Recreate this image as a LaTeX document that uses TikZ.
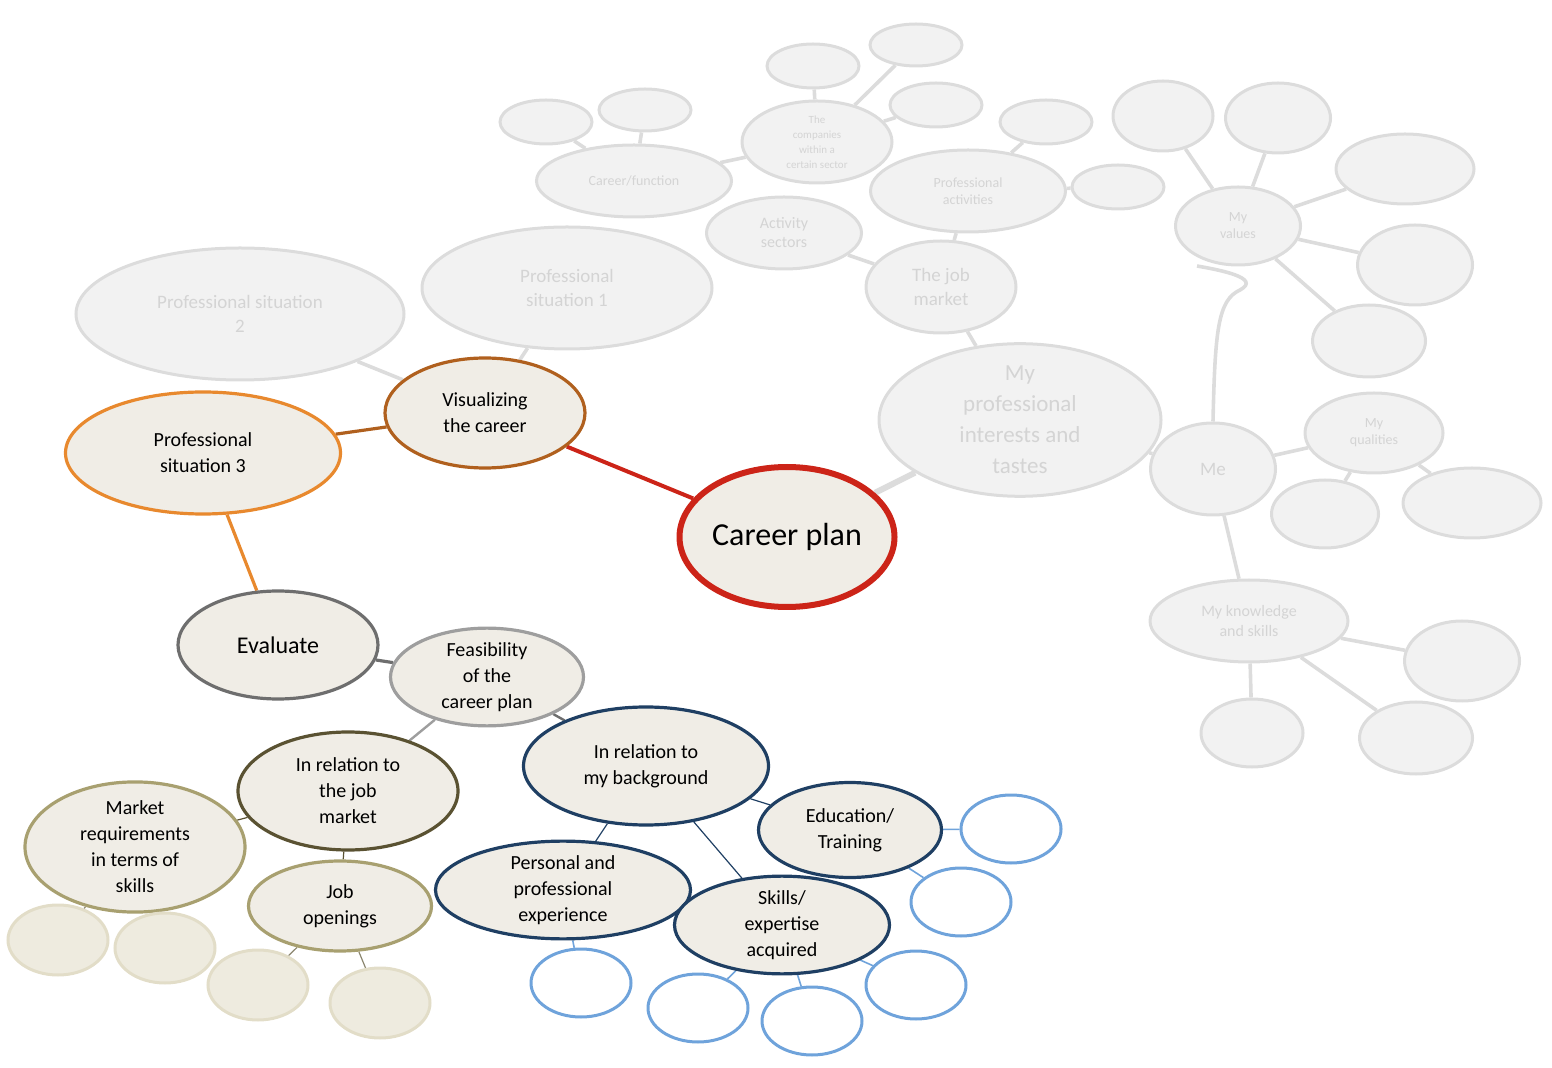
\documentclass[tikz,border=0pt]{standalone}
\usepackage{fontspec}
\setmainfont{Carlito}
\usetikzlibrary{shapes.geometric,backgrounds}
\definecolor{paper}{HTML}{F0EDE6}
\definecolor{faint}{HTML}{F2F2F2}
\definecolor{faintline}{HTML}{DCDCDC}
\definecolor{fainttext}{HTML}{D4D4D4}
\definecolor{careerred}{HTML}{CC2418}
\definecolor{visbrown}{HTML}{B0601E}
\definecolor{sitorange}{HTML}{E8892E}
\definecolor{evalgray}{HTML}{6E6E6E}
\definecolor{feasgray}{HTML}{9E9E9E}
\definecolor{jobolive}{HTML}{5A5232}
\definecolor{khaki}{HTML}{A8A070}
\definecolor{palekhaki}{HTML}{E2DDC8}
\definecolor{palefill}{HTML}{EEEBDF}
\definecolor{navy}{HTML}{1F3F63}
\definecolor{skyblue}{HTML}{6FA3DB}
\tikzset{
  sz/.style 2 args={minimum width=#1*0.5pt,minimum height=#2*0.5pt},
  bubble/.style={ellipse,draw,fill=paper,inner sep=0pt,align=center,font=\fontsize{10}{13}\selectfont},
  ghost/.style={ellipse,draw=faintline,line width=1.5pt,fill=faint,inner sep=0pt,align=center,text=fainttext,font=\fontsize{7}{8.5}\selectfont},
  ghostline/.style={faintline,line width=1.8pt},
  pale/.style={ellipse,draw=palekhaki,line width=1.5pt,fill=palefill,sz={100}{70}},
  bluebox/.style={ellipse,draw=skyblue,line width=1.5pt,fill=white,sz={100}{68}},
}
\begin{document}
\begin{tikzpicture}[x=0.5pt,y=-0.5pt]
\useasboundingbox (0,0) rectangle (1552,1068);

% grey part
\node[ghost,sz={328}{132},font=\fontsize{9.5}{12}\selectfont] (sit2) at (240,314) {Professional situation\\2};
\node[ghost,sz={290}{122},font=\fontsize{9.5}{12}\selectfont] (sit1) at (567,288) {Professional\\situation 1};
\node[ghost,sz={195}{72}] (func) at (634,181) {Career/function};
\node[ghost,sz={150}{82},font=\fontsize{5.5}{7.5}\selectfont] (comp) at (817,142) {The\\companies\\within a\\certain sector};
\node[ghost,sz={155}{72},font=\fontsize{8}{9.5}\selectfont] (sect) at (784,233) {Activity\\sectors};
\node[ghost,sz={195}{82}] (act) at (968,191) {Professional\\activities};
\node[ghost,sz={150}{92},font=\fontsize{9.5}{12}\selectfont] (mkt) at (941,287) {The job\\market};
\node[ghost,sz={282}{128},font=\fontsize{11.5}{15.5}\selectfont] (taste) at (1020,420) {My\\professional\\interests and\\tastes};
\node[ghost,sz={125}{92},font=\fontsize{9.5}{12}\selectfont] (me) at (1213,469) {Me};
\node[ghost,sz={125}{78}] (val) at (1238,226) {My\\values};
\node[ghost,sz={138}{80}] (qual) at (1374,433) {My\\qualities};
\node[ghost,sz={198}{82},font=\fontsize{8}{10}\selectfont] (know) at (1249,621) {My knowledge\\and skills};
\foreach \n/\px/\py/\w/\h in {ga/546/122/92/44, gb/645/110/92/42, gc/813/66/92/44, gd/916/45/92/42,
  ge/936/105/92/44, gf/1046/122/92/44, gg/1118/187/92/44, gh/1163/116/100/70, gi/1278/118/105/70,
  gj/1405/169/138/70, gk/1415/265/115/80, gl/1369/341/113/72, gm/1325/514/107/68,
  gn/1472/503/138/70, go/1462/661/115/80, gp/1416/738/113/72, gq/1252/733/102/68}
  \node[ghost,sz={\w}{\h}] (\n) at (\px,\py) {};

% coloured part
\node[bubble,draw=careerred,line width=3pt,sz={215}{140},font=\fontsize{16}{20}\selectfont] (plan) at (787,537) {Career plan};
\node[bubble,draw=visbrown,line width=1.6pt,sz={200}{110}] (vis) at (485,413) {Visualizing\\the career};
\node[bubble,draw=sitorange,line width=1.6pt,sz={275}{122}] (sit3) at (203,453) {Professional\\situation 3};
\node[bubble,draw=evalgray,line width=1.6pt,sz={200}{108},font=\fontsize{12}{15}\selectfont] (eval) at (278,645) {Evaluate};
\node[bubble,draw=feasgray,line width=1.6pt,sz={193}{95}] (feas) at (487,677) {Feasibility\\of the\\career plan};
\node[bubble,draw=jobolive,line width=1.6pt,sz={220}{118}] (jobm) at (348,791) {In relation to\\the job\\market};
\node[bubble,draw=navy,line width=1.6pt,sz={245}{118}] (back) at (646,766) {In relation to\\my background};
\node[bubble,draw=khaki,line width=1.6pt,sz={220}{110}] (req) at (135,847) {Market\\requirements\\in terms of\\skills};
\node[bubble,draw=khaki,line width=1.6pt,sz={183}{90}] (open) at (340,906) {Job\\openings};
\node[bubble,draw=navy,line width=1.6pt,sz={183}{95}] (edu) at (850,830) {Education/\\Training};
\node[bubble,draw=navy,line width=1.6pt,sz={255}{95}] (exp) at (563,890) {Personal and\\professional\\experience};
\node[bubble,draw=navy,line width=1.6pt,sz={215}{95}] (skill) at (782,925) {Skills/\\expertise\\acquired};
\node[pale] (pa) at (58,940) {};
\node[pale] (pb) at (165,948) {};
\node[pale] (pc) at (258,985) {};
\node[pale] (pd) at (380,1003) {};
\node[bluebox] (ba) at (1011,829) {};
\node[bluebox] (bb) at (961,902) {};
\node[bluebox] (bc) at (581,983) {};
\node[bluebox] (bd) at (698,1008) {};
\node[bluebox] (be) at (812,1021) {};
\node[bluebox] (bf) at (916,985) {};

\begin{pgfonlayer}{background}
% grey connectors
  \foreach \a/\b in {sit2/vis, sit1/vis, taste/mkt, mkt/sect, mkt/act, act/gf, act/gg, func/comp,
    func/ga, func/gb, comp/gc, comp/gd, comp/ge, taste/me, me/qual, qual/gm, qual/gn, me/know,
    know/go, know/gp, know/gq, val/gh, val/gi, val/gj, val/gk, val/gl}
    \draw[ghostline] (\a) -- (\b);
  \draw[faintline,line width=3pt] (plan) -- (taste);
  \draw[ghostline] (me.north) .. controls (1215,330) and (1218,300) .. (1240,290)
    .. controls (1262,278) and (1220,270) .. (1197,266);
% coloured connectors
  \draw[careerred,line width=2pt] (plan) -- (vis);
  \draw[visbrown,line width=1.6pt] (vis) -- (sit3);
  \draw[sitorange,line width=1.6pt] (sit3) -- (eval);
  \draw[evalgray,line width=1.6pt] (eval) -- (feas);
  \draw[feasgray,line width=1.2pt] (feas) -- (jobm);
  \draw[evalgray,line width=1.2pt] (feas) -- (back);
  \draw[jobolive,line width=0.6pt] (jobm) -- (req);
  \draw[jobolive,line width=0.6pt] (jobm) -- (open);
  \draw[navy,line width=0.6pt] (back) -- (edu);
  \draw[navy,line width=0.6pt] (back) -- (exp);
  \draw[navy,line width=0.6pt] (back) -- (skill);
  \foreach \a/\b in {req/pa, req/pb, open/pc, open/pd}
    \draw[jobolive!70,line width=0.6pt] (\a) -- (\b);
  \foreach \a/\b in {edu/ba, edu/bb, exp/bc, skill/bd, skill/be, skill/bf}
    \draw[skyblue,line width=0.8pt] (\a) -- (\b);
\end{pgfonlayer}
\end{tikzpicture}
\end{document}
